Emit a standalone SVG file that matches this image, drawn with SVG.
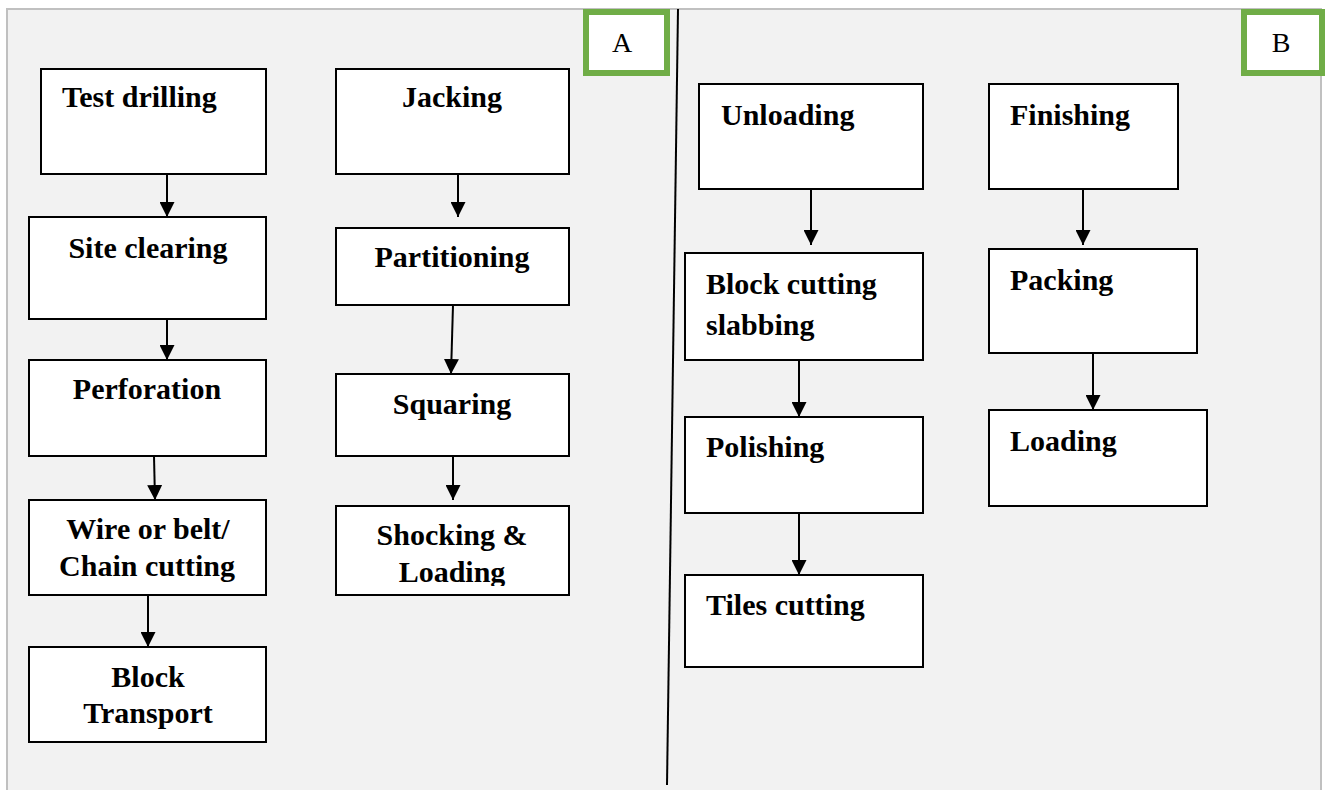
<svg xmlns="http://www.w3.org/2000/svg" width="1325" height="790" viewBox="0 0 1325 790">
<defs>
<style>
.box{fill:#ffffff;stroke:#000000;stroke-width:2}
.t{font-family:"Liberation Serif","Times New Roman",serif;font-weight:bold;font-size:30px;fill:#000000}
.c{text-anchor:middle}
.tag{fill:#ffffff;stroke:#70ad47;stroke-width:6}
.tagt{font-family:"Liberation Serif","Times New Roman",serif;font-size:28px;fill:#000000;text-anchor:middle}
.con line{stroke:#000000;stroke-width:2;marker-end:url(#arr)}
</style>
<marker id="arr" markerUnits="userSpaceOnUse" markerWidth="15" markerHeight="15" refX="15" refY="7.5" orient="auto" viewBox="0 0 15 15">
<path d="M0,0 L15,7.5 L0,15 z" fill="#000000"/>
</marker>
<clipPath id="clipSL"><rect x="336" y="506" width="233" height="80"/></clipPath>
</defs>
<rect x="0" y="0" width="1325" height="790" fill="#ffffff"/>
<rect x="7" y="9" width="1314" height="790" fill="#f2f2f2" stroke="#c0c0c0" stroke-width="2"/>
<line x1="678" y1="9" x2="667" y2="785" stroke="#000000" stroke-width="2"/>
<g id="tagA"><rect class="tag" x="586" y="12" width="81" height="61"/><text class="tagt" x="622" y="52">A</text></g>
<g id="tagB"><rect class="tag" x="1244" y="12" width="78" height="61"/><text class="tagt" x="1281" y="52">B</text></g>

<g id="test-drilling"><rect class="box" x="41" y="69" width="225" height="105"/><text class="t" x="62" y="107">Test drilling</text></g>
<g id="site-clearing"><rect class="box" x="29" y="217" width="237" height="102"/><text class="t c" x="148" y="258">Site clearing</text></g>
<g id="perforation"><rect class="box" x="29" y="360" width="237" height="96"/><text class="t c" x="147" y="399">Perforation</text></g>
<g id="wire-cutting"><rect class="box" x="29" y="500" width="237" height="95"/><text class="t c" x="148" y="539">Wire or belt/</text><text class="t c" x="147" y="576">Chain cutting</text></g>
<g id="block-transport"><rect class="box" x="29" y="647" width="237" height="95"/><text class="t c" x="148" y="687">Block</text><text class="t c" x="148" y="723">Transport</text></g>

<g id="jacking"><rect class="box" x="336" y="69" width="233" height="105"/><text class="t c" x="452" y="107">Jacking</text></g>
<g id="partitioning"><rect class="box" x="336" y="228" width="233" height="77"/><text class="t c" x="452" y="267">Partitioning</text></g>
<g id="squaring"><rect class="box" x="336" y="374" width="233" height="82"/><text class="t c" x="452" y="414">Squaring</text></g>
<g id="shocking-loading"><rect class="box" x="336" y="506" width="233" height="89"/><text class="t c" x="452" y="545">Shocking &amp;</text><text class="t c" x="452" y="582" clip-path="url(#clipSL)">Loading</text></g>

<g id="unloading"><rect class="box" x="699" y="84" width="224" height="105"/><text class="t" x="721" y="125">Unloading</text></g>
<g id="block-cutting"><rect class="box" x="685" y="253" width="238" height="107"/><text class="t" x="706" y="294">Block cutting</text><text class="t" x="706" y="335">slabbing</text></g>
<g id="polishing"><rect class="box" x="685" y="417" width="238" height="96"/><text class="t" x="706" y="457">Polishing</text></g>
<g id="tiles-cutting"><rect class="box" x="685" y="575" width="238" height="92"/><text class="t" x="706" y="615">Tiles cutting</text></g>

<g id="finishing"><rect class="box" x="989" y="84" width="189" height="105"/><text class="t" x="1010" y="125">Finishing</text></g>
<g id="packing"><rect class="box" x="989" y="249" width="208" height="104"/><text class="t" x="1010" y="290">Packing</text></g>
<g id="loading"><rect class="box" x="989" y="410" width="218" height="96"/><text class="t" x="1010" y="451">Loading</text></g>

<g id="connectors" class="con">
<line x1="167" y1="174" x2="167" y2="217"/>
<line x1="167" y1="319" x2="167" y2="360"/>
<line x1="154" y1="456" x2="155" y2="500"/>
<line x1="148" y1="595" x2="148" y2="647"/>
<line x1="458" y1="174" x2="458" y2="217"/>
<line x1="453" y1="305" x2="451" y2="374"/>
<line x1="453" y1="456" x2="453" y2="500"/>
<line x1="811" y1="189" x2="811" y2="245"/>
<line x1="799" y1="360" x2="799" y2="417"/>
<line x1="799" y1="513" x2="799" y2="575"/>
<line x1="1083" y1="189" x2="1083" y2="245"/>
<line x1="1093" y1="353" x2="1093" y2="410"/>
</g>
</svg>
